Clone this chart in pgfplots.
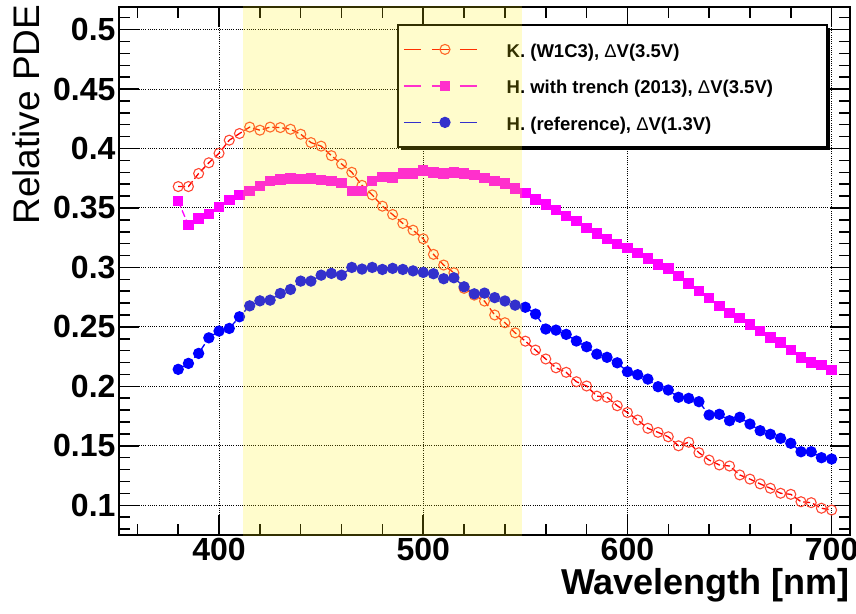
\documentclass[border=0pt]{standalone}
\usepackage{pgfplots}
\pgfplotsset{compat=1.18}
\usepackage{pgfplotstable}
\usepackage{fontspec}
\setmainfont{Liberation Sans}

\definecolor{rootred}{RGB}{255,0,0}
\definecolor{circred}{RGB}{255,70,50}
\definecolor{rootmag}{RGB}{255,0,255}
\definecolor{rootblue}{RGB}{0,0,255}

\pgfplotstableread{
x y
380 0.368
385 0.368
390 0.379
395 0.388
400 0.396
405 0.407
410 0.4126
415 0.418
420 0.4154
425 0.418
430 0.4176
435 0.4162
440 0.412
445 0.405
450 0.402
455 0.394
460 0.387
465 0.380
470 0.369
475 0.361
480 0.3515
485 0.3445
490 0.337
495 0.3313
500 0.3241
505 0.311
510 0.302
515 0.2955
520 0.2824
525 0.2767
530 0.2717
535 0.260
540 0.2535
545 0.245
550 0.238
555 0.2305
560 0.223
565 0.2156
570 0.2118
575 0.2039
580 0.2003
585 0.1918
590 0.1908
595 0.1837
600 0.1780
605 0.1717
610 0.1647
615 0.1613
620 0.1576
625 0.150
630 0.153
635 0.1442
640 0.138
645 0.1339
650 0.133
655 0.1255
660 0.122
665 0.118
670 0.1143
675 0.1101
680 0.1092
685 0.103
690 0.1022
695 0.0975
700 0.096
}\tabK

\pgfplotstableread{
x y
380 0.3557
385 0.3355
390 0.3412
395 0.3448
400 0.351
405 0.3566
410 0.3608
415 0.3644
420 0.3683
425 0.3725
430 0.374
435 0.3748
440 0.3742
445 0.3748
450 0.3734
455 0.3728
460 0.3711
465 0.3644
470 0.3644
475 0.3728
480 0.3761
485 0.3756
490 0.379
495 0.379
500 0.3815
505 0.380
510 0.379
515 0.3798
520 0.379
525 0.3776
530 0.3753
535 0.3725
540 0.3706
545 0.3664
550 0.3627
555 0.3571
560 0.353
565 0.3481
570 0.3431
575 0.3389
580 0.3333
585 0.3286
590 0.3238
595 0.3196
600 0.3164
605 0.312
610 0.3076
615 0.3025
620 0.2992
625 0.293
630 0.2866
635 0.280
640 0.2745
645 0.2675
650 0.2618
655 0.2576
660 0.2521
665 0.2467
670 0.2412
675 0.2367
680 0.2305
685 0.2244
690 0.2202
695 0.2179
700 0.2137
}\tabHT

\pgfplotstableread{
x y
380 0.2143
385 0.2193
390 0.2277
395 0.2408
400 0.2465
405 0.2487
410 0.2585
415 0.2677
420 0.2719
425 0.2725
430 0.2781
435 0.2815
440 0.2885
445 0.2885
450 0.2935
455 0.295
460 0.2935
465 0.300
470 0.2986
475 0.300
480 0.2983
485 0.2992
490 0.2983
495 0.2971
500 0.2958
505 0.2947
510 0.2905
515 0.2913
520 0.2837
525 0.2778
530 0.2784
535 0.2746
540 0.2718
545 0.2683
550 0.2665
555 0.2608
560 0.2482
565 0.2473
570 0.2437
575 0.2381
580 0.2333
585 0.2271
590 0.2244
595 0.2198
600 0.2123
605 0.2098
610 0.2061
615 0.1997
620 0.1969
625 0.1908
630 0.1899
635 0.1871
640 0.1759
645 0.1765
650 0.1711
655 0.174
660 0.1683
665 0.1627
670 0.1597
675 0.1563
680 0.1521
685 0.145
690 0.145
695 0.14
700 0.1389
}\tabHR

\newcommand{\legtext}[1]{\makebox[315pt][l]{\rule[-4pt]{0pt}{21pt}#1}}

\begin{document}
\begin{tikzpicture}
\useasboundingbox (0,0) rectangle (856pt,613pt);
\begin{axis}[
  at={(119pt,78pt)}, anchor=south west,
  width=731pt, height=528pt, scale only axis,
  xmin=351, xmax=709, ymin=0.075, ymax=0.519,
  xtick={400,500,600,700},
  xticklabels={400,500,600,700},
  minor xtick={360,380,420,440,460,480,520,540,560,580,620,640,660,680,700},
  ytick={0.1,0.15,0.2,0.25,0.3,0.35,0.4,0.45,0.5},
  yticklabels={0.1,0.15,0.2,0.25,0.3,0.35,0.4,0.45,0.5},
  minor ytick={0.08,0.09,0.11,0.12,0.13,0.14,0.16,0.17,0.18,0.19,0.21,0.22,0.23,0.24,0.26,0.27,0.28,0.29,0.31,0.32,0.33,0.34,0.36,0.37,0.38,0.39,0.41,0.42,0.43,0.44,0.46,0.47,0.48,0.49,0.51},
  tick align=inside,
  xtick pos=both, ytick pos=both,
  major tick length=20pt, minor tick length=11pt,
  every tick/.style={black, line width=1.5pt},
  axis line style={line width=2pt},
  grid=major,
  major grid style={black, line width=1pt, dash pattern=on 1pt off 1.2pt},
  ticklabel style={font=\bfseries\fontsize{32}{32}\selectfont},
  xlabel={Wavelength [nm]},
  xlabel style={font=\bfseries\fontsize{36}{36}\selectfont, at={(axis description cs:1,0)}, anchor=base east, yshift=-59pt, inner sep=0pt},
  ylabel={Relative PDE},
  ylabel style={font=\fontsize{37}{37}\selectfont, at={(axis description cs:-0.127,1.005)}, anchor=east, inner sep=0pt},
  legend style={at={(axis description cs:0.3817,0.966)}, anchor=north west,
    draw=none, fill=white, name=leg,
    font=\bfseries\fontsize{18.5}{19}\selectfont,
    inner xsep=5pt, inner ysep=15pt, row sep=18pt, column sep=20pt,
    nodes={inner sep=0pt, text=black}},
  legend cell align=left,
  legend image code/.code={
    \draw[#1, mark=none, line width=1.5pt, dash pattern=on 17pt off 11pt] (0pt,0pt) -- (82pt,0pt);
    \draw[#1, draw=none] plot coordinates {(41pt,0pt)};
  },
]
\addplot[color=rootred, draw=rootred, line width=1.3pt, dash pattern=on 7pt off 3pt,
  mark=o, mark size=5pt, mark options={solid, draw=circred, line width=1.1pt}] table {\tabK};
\addlegendentry{\legtext{K. (W1C3), {\mdseries Δ}V(3.5V)}}
\addplot[color=rootmag, draw=rootmag, line width=1.3pt, dash pattern=on 7pt off 3pt,
  mark=square*, mark size=4.6pt, mark options={solid, fill=rootmag, draw=rootmag}] table {\tabHT};
\addlegendentry{\legtext{H. with trench (2013), {\mdseries Δ}V(3.5V)}}
\addplot[color=rootblue, draw=rootblue, line width=1.3pt, dash pattern=on 7pt off 3pt,
  mark=*, mark size=5pt, mark options={solid, fill=rootblue, draw=rootblue}] table {\tabHR};
\addlegendentry{\legtext{H. (reference), {\mdseries Δ}V(1.3V)}}
\coordinate (ylA) at (axis cs:411.6,0.075);
\coordinate (ylB) at (axis cs:548.6,0.519);
\end{axis}
\fill[black] ([yshift=-3pt]leg.north east) rectangle ([xshift=3pt,yshift=-3pt]leg.south east);
\fill[black] ([xshift=3pt]leg.south west) rectangle ([xshift=3pt,yshift=-3pt]leg.south east);
\draw[black, line width=2pt] (leg.north east) rectangle (leg.south west);
\fill[yellow, fill opacity=0.2] ([yshift=-1.2pt]ylA) rectangle ([yshift=1.2pt]ylB);
\end{tikzpicture}
\end{document}
